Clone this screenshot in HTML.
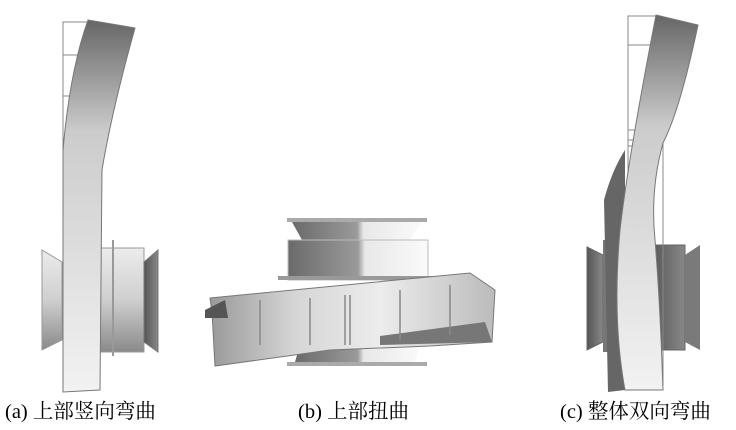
<!DOCTYPE html>
<html><head><meta charset="utf-8"><style>
html,body{margin:0;padding:0;background:#fff;}
svg{display:block}
text{font-family:"Liberation Serif","Noto Serif CJK SC",serif;font-size:20.5px;fill:#000}
</style></head><body>
<svg width="736" height="430" viewBox="0 0 736 430">
<defs>
<linearGradient id="drum" x1="0" x2="1" y1="0" y2="0"><stop offset="0" stop-color="#6a6a6a"/><stop offset="0.5" stop-color="#9a9a9a"/><stop offset="0.55" stop-color="#e8e8e8"/><stop offset="1" stop-color="#fafafa"/></linearGradient>
<linearGradient id="vd" x1="0" x2="0" y1="0" y2="1"><stop offset="0" stop-color="#ececec"/><stop offset="0.5" stop-color="#cfcfcf"/><stop offset="1" stop-color="#8a8a8a"/></linearGradient>
<linearGradient id="col" x1="0" x2="0" y1="0" y2="1"><stop offset="0" stop-color="#666"/><stop offset="0.3" stop-color="#ccc"/><stop offset="1" stop-color="#f2f2f2"/></linearGradient>
<linearGradient id="band" x1="0" x2="1"><stop offset="0" stop-color="#999"/><stop offset="0.3" stop-color="#d6d6d6"/><stop offset="0.6" stop-color="#ececec"/><stop offset="1" stop-color="#bbb"/></linearGradient>
<linearGradient id="dk" x1="0" x2="1"><stop offset="0" stop-color="#555"/><stop offset="1" stop-color="#888"/></linearGradient>
</defs>
<!-- (a) -->
<g stroke="#888" stroke-width="1" fill="none">
<rect x="63" y="22" width="25" height="140"/><line x1="63" y1="55" x2="90" y2="55"/><line x1="63" y1="96" x2="80" y2="96"/>
</g>
<polygon points="42,250 62,262 62,340 42,350" fill="url(#vd)" stroke="#999"/>
<rect x="100" y="248" width="44" height="104" fill="url(#vd)" stroke="#999"/>
<polygon points="144,262 158,250 158,352 144,342" fill="url(#dk)" stroke="#777"/>
<line x1="113" y1="240" x2="113" y2="356" stroke="#999" stroke-width="2"/>
<path d="M88,20 L135,28 Q112,110 102,170 L100,390 L63,392 L63,150 Q70,70 88,20Z" fill="url(#col)" stroke="#777"/>
<!-- (b) -->
<rect x="287" y="218" width="140" height="4" fill="#aaa"/>
<polygon points="292,222 422,222 410,240 302,240" fill="url(#drum)"/>
<rect x="288" y="240" width="140" height="40" fill="url(#drum)" stroke="#bbb"/>
<rect x="278" y="276" width="160" height="4" fill="#999"/>
<polygon points="300,345 420,345 415,362 295,362" fill="url(#drum)"/>
<rect x="287" y="362" width="140" height="4" fill="#aaa"/>
<polygon points="210,298 470,273 495,290 492,342 430,346 330,350 215,366 212,312" fill="url(#band)" stroke="#777"/>
<polygon points="380,336 485,322 492,342 380,345" fill="#777"/>
<polygon points="205,310 225,300 228,318 205,318" fill="#555"/>
<g stroke="#888" stroke-width="1.5"><line x1="260" y1="300" x2="260" y2="345"/><line x1="310" y1="298" x2="310" y2="345"/><line x1="345" y1="295" x2="345" y2="345"/><line x1="350" y1="295" x2="350" y2="345"/><line x1="400" y1="290" x2="400" y2="340"/><line x1="450" y1="285" x2="450" y2="335"/></g>
<!-- (c) -->
<polygon points="587,247 603,255 603,342 587,350" fill="url(#dk)" stroke="#666"/>
<rect x="603" y="240" width="12" height="112" fill="#777"/>
<rect x="650" y="245" width="35" height="105" fill="url(#dk)" stroke="#666"/>
<polygon points="685,255 700,245 700,350 685,342" fill="#7a7a7a"/>
<g stroke="#888" fill="none"><rect x="628" y="16" width="30" height="130"/><line x1="628" y1="45" x2="660" y2="45"/><line x1="628" y1="130" x2="640" y2="130"/><rect x="628" y="140" width="35" height="245"/></g>
<path d="M604,200 Q612,170 625,150 L625,390 L608,392 Z" fill="#666"/>
<path d="M656,15 L698,25 Q680,110 663,143 Q650,190 655,240 Q660,300 663,390 L625,390 Q612,320 620,230 Q628,160 656,15Z" fill="url(#col)" stroke="#777"/>
<text x="5" y="418">(a) 上部竖向弯曲</text>
<text x="298" y="418">(b) 上部扭曲</text>
<text x="560" y="418">(c) 整体双向弯曲</text>
</svg>
</body></html>
